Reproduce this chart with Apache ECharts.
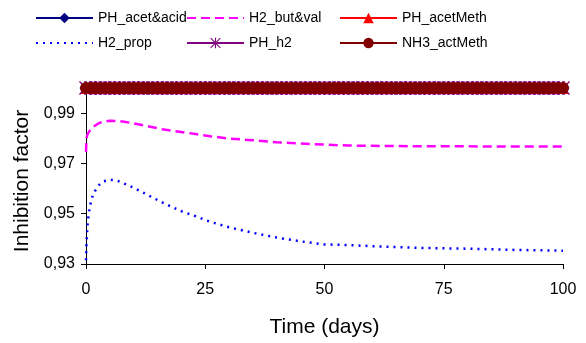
<!DOCTYPE html>
<html>
<head>
<meta charset="utf-8">
<script src="https://cdn.jsdelivr.net/npm/echarts@6/dist/echarts.min.js"></script>
<style>
  html, body { margin: 0; padding: 0; background: #fff; }
  #chart { width: 586px; height: 343px; }
</style>
</head>
<body>
<div id="chart"></div>
<script>
// time grid of the H2 curves (days)
const curveDays = [0, 0.1, 0.3, 0.6, 1, 1.5, 2.5, 3.5, 5, 6.5, 8, 10, 12, 14, 16, 18, 20, 23, 26, 30, 35, 40, 45, 50, 55, 60, 70, 80, 90, 100];
const h2ButVal = [0.9745, 0.9800, 0.9815, 0.9825, 0.9835, 0.9845, 0.9858, 0.9866, 0.9870, 0.9869, 0.9866, 0.9859, 0.9852, 0.9844, 0.9836, 0.9830, 0.9825, 0.9817, 0.9808, 0.9799, 0.9792, 0.9784, 0.9779, 0.9775, 0.9771, 0.9770, 0.9768, 0.9768, 0.9767, 0.9767];
const h2Prop = [0.9315, 0.9380, 0.9450, 0.9505, 0.9545, 0.9578, 0.9610, 0.9628, 0.9635, 0.9632, 0.9620, 0.9603, 0.9584, 0.9564, 0.9545, 0.9527, 0.9510, 0.9490, 0.9468, 0.9446, 0.9424, 0.9405, 0.9390, 0.9378, 0.9375, 0.9371, 0.9364, 0.9361, 0.9356, 0.9353];

// daily grid of the series that stay at 1 (no inhibition)
const dailyDays = [0, 1, 2, 3, 4, 5, 6, 7, 8, 9, 10, 11, 12, 13, 14, 15, 16, 17, 18, 19, 20, 21, 22, 23, 24, 25, 26, 27, 28, 29, 30, 31, 32, 33, 34, 35, 36, 37, 38, 39, 40, 41, 42, 43, 44, 45, 46, 47, 48, 49, 50, 51, 52, 53, 54, 55, 56, 57, 58, 59, 60, 61, 62, 63, 64, 65, 66, 67, 68, 69, 70, 71, 72, 73, 74, 75, 76, 77, 78, 79, 80, 81, 82, 83, 84, 85, 86, 87, 88, 89, 90, 91, 92, 93, 94, 95, 96, 97, 98, 99, 100];
const unitFactor = [1, 1, 1, 1, 1, 1, 1, 1, 1, 1, 1, 1, 1, 1, 1, 1, 1, 1, 1, 1, 1, 1, 1, 1, 1, 1, 1, 1, 1, 1, 1, 1, 1, 1, 1, 1, 1, 1, 1, 1, 1, 1, 1, 1, 1, 1, 1, 1, 1, 1, 1, 1, 1, 1, 1, 1, 1, 1, 1, 1, 1, 1, 1, 1, 1, 1, 1, 1, 1, 1, 1, 1, 1, 1, 1, 1, 1, 1, 1, 1, 1, 1, 1, 1, 1, 1, 1, 1, 1, 1, 1, 1, 1, 1, 1, 1, 1, 1, 1, 1, 1];

const seriesNames = ["PH_acet&acid", "H2_but&val", "PH_acetMeth", "H2_prop", "PH_h2", "NH3_actMeth"];
const lineOnlyNames = ["H2_but&val", "H2_prop"];
const yTicks = [0.93, 0.95, 0.97, 0.99];
const xTicks = [0, 25, 50, 75, 100];

const font = "Liberation Sans, Arial, sans-serif";
const asterisk = "path://M9,0L11,0L11,20L9,20Z M1.4,0L20,18.6L18.6,20L0,1.4Z M18.6,0L20,1.4L1.4,20L0,18.6Z";

function pairs(xs, ys) {
  return xs.map((x, i) => [x, ys[i]]);
}

function flatSeries(name, color, symbol, size) {
  return {
    name: name,
    type: "line",
    data: pairs(dailyDays, unitFactor),
    symbol: symbol,
    symbolSize: size,
    showAllSymbol: true,
    clip: false,
    color: color,
    itemStyle: { color: color },
    lineStyle: { color: color, width: 1.5 }
  };
}

const legendSlots = [
  { left: 35, top: 11 },
  { left: 186, top: 11 },
  { left: 339, top: 11 },
  { left: 35, top: 36 },
  { left: 186, top: 36 },
  { left: 339, top: 36 }
];

const chart = echarts.init(document.getElementById("chart"), null, { renderer: "canvas" });

chart.setOption({
  animation: false,
  backgroundColor: "#ffffff",
  textStyle: { fontFamily: font },
  legend: seriesNames.map((name, i) => ({
    data: [lineOnlyNames.includes(name) ? { name: name, itemStyle: { opacity: 0 } } : name],
    left: legendSlots[i].left,
    top: legendSlots[i].top,
    padding: 0,
    itemWidth: 57,
    itemHeight: 13,
    selectedMode: false,
    textStyle: { fontFamily: font, fontSize: 14, color: "#000" }
  })),
  grid: { left: 86, right: 23, top: 88, bottom: 79 },
  xAxis: {
    type: "value",
    min: 0,
    max: 100,
    interval: 25,
    name: "Time (days)",
    nameLocation: "middle",
    nameGap: 53,
    nameTextStyle: { fontFamily: font, fontSize: 21, color: "#000" },
    axisLine: { onZero: false, lineStyle: { color: "#000", width: 1 } },
    axisTick: { show: true, length: 5, lineStyle: { color: "#000" } },
    axisLabel: {
      color: "#000",
      fontSize: 16,
      margin: 18,
      customValues: xTicks
    },
    splitLine: { show: false }
  },
  yAxis: {
    type: "value",
    min: 0.93,
    max: 1.0,
    name: "Inhibition factor",
    nameLocation: "middle",
    nameGap: 53,
    nameTextStyle: { fontFamily: font, fontSize: 21, color: "#000", padding: [0, 10, 0, 0] },
    axisLine: { show: true, onZero: false, lineStyle: { color: "#000", width: 1 } },
    axisTick: { show: true, length: 5, lineStyle: { color: "#000" }, customValues: yTicks },
    axisLabel: {
      color: "#000",
      fontSize: 16,
      margin: 11,
      customValues: yTicks,
      formatter: (v) => v.toFixed(2).replace(".", ",")
    },
    splitLine: { show: false }
  },
  series: [
    flatSeries("PH_acet&acid", "#000080", "diamond", 13),
    {
      name: "H2_but&val",
      type: "line",
      data: pairs(curveDays, h2ButVal),
      symbol: "none",
      color: "#ff00ff",
      lineStyle: { color: "#ff00ff", width: 2.5, type: [9, 5] }
    },
    flatSeries("PH_acetMeth", "#ff0000", "triangle", 12),
    {
      name: "H2_prop",
      type: "line",
      data: pairs(curveDays, h2Prop),
      symbol: "none",
      color: "#0000ff",
      lineStyle: { color: "#0000ff", width: 2.5, type: [2, 5] }
    },
    flatSeries("PH_h2", "#800080", asterisk, 14),
    flatSeries("NH3_actMeth", "#800000", "circle", 12)
  ]
});
</script>
</body>
</html>
